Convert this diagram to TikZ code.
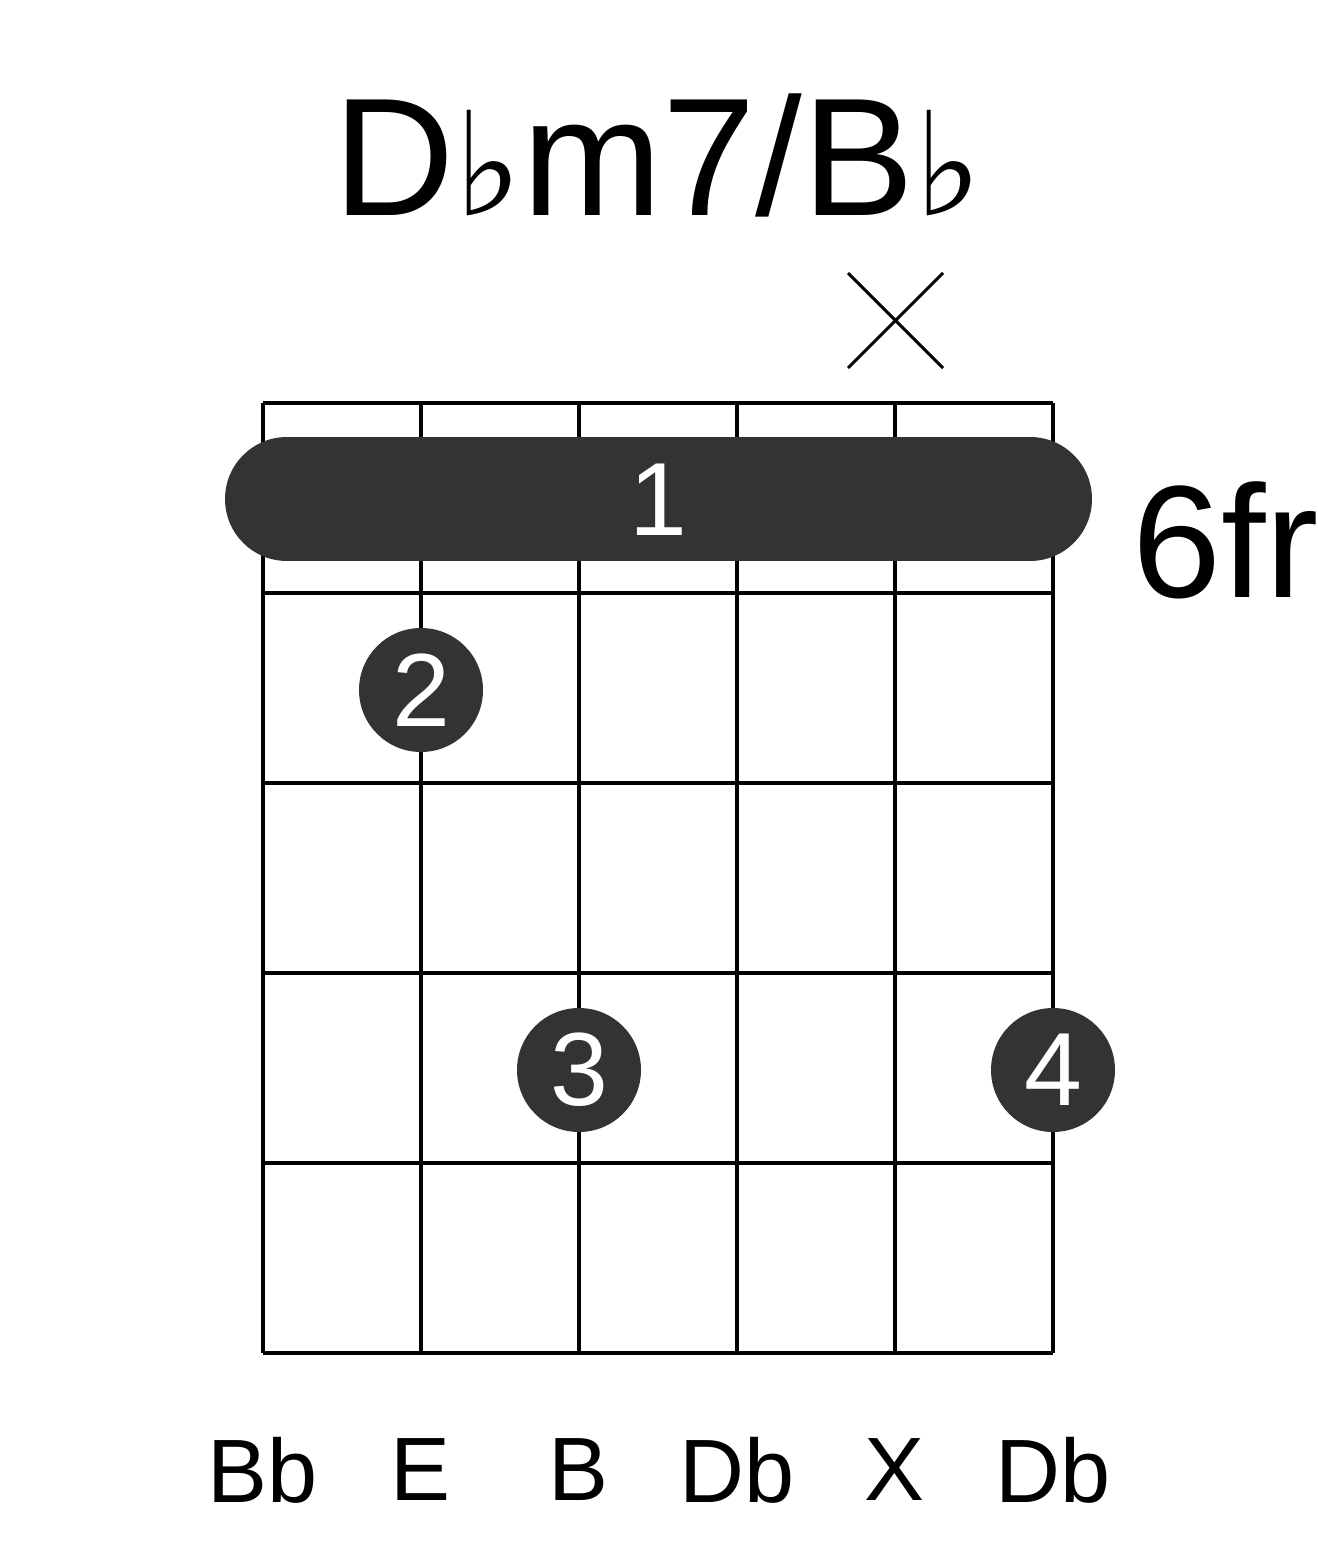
\documentclass[tikz,border=0pt]{standalone}
\usepackage{fontspec}
\setmainfont{Liberation Sans}
\newfontfamily\symfont{DejaVu Sans}
\begin{document}
\begin{tikzpicture}[x=0.5pt,y=-0.5pt,
  grid/.style={line width=2pt,black},
  dot/.style={circle,fill=black!80,minimum size=62pt,inner sep=0pt,text=white,font=\fontsize{52}{52}\selectfont},
  lbl/.style={font=\fontsize{45}{45}\selectfont}]
\useasboundingbox (0,0) rectangle (1317,1551);
\foreach \x in {263,421,579,737,895,1053} \draw[grid] (\x,403) -- (\x,1353);
\foreach \y in {403,593,783,973,1163,1353} \draw[grid] (263,\y) -- (1053,\y);
\draw[black!80,line width=62pt,line cap=round] (287,499) -- (1030,499);
\node[text=white,font=\fontsize{52}{52}\selectfont] (b1) at (658,500) {1};
\node[dot] (d2) at (421,690) {2};
\node[dot] (d3) at (579,1070) {3};
\node[dot] (d4) at (1053,1070) {4};
\draw[line width=1.5pt] (848,273) -- (943,368) (848,368) -- (943,273);
\node[font=\fontsize{84}{84}\selectfont] (title) at (658,155) {D{\symfont\fontsize{72}{72}\selectfont ♭}m7/B{\symfont\fontsize{72}{72}\selectfont ♭}};
\node[font=\fontsize{80}{80}\selectfont,anchor=west] (fr) at (1125,540) {6fr};
\foreach \x/\t [count=\i] in {263/Bb,421/E,579/B,737/Db,895/X,1053/Db}
  \node[lbl] (s\i) at (\x,1470) {\t};
\end{tikzpicture}
\end{document}
